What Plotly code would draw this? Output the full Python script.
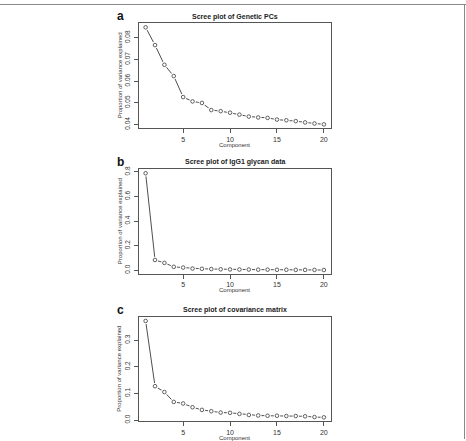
import plotly.graph_objects as go

components = list(range(1, 21))

genetic_pcs = [0.0848, 0.0766, 0.0675, 0.0623, 0.0526, 0.0506, 0.0499, 0.0466,
               0.0461, 0.0454, 0.0445, 0.0436, 0.0432, 0.0430, 0.0422, 0.0419,
               0.0415, 0.0409, 0.0404, 0.0400]
igg1_glycan = [0.789, 0.083, 0.059, 0.027, 0.021, 0.013, 0.011, 0.009, 0.007,
               0.006, 0.005, 0.005, 0.004, 0.004, 0.003, 0.003, 0.002, 0.002,
               0.002, 0.001]
covariance = [0.372, 0.127, 0.105, 0.068, 0.062, 0.048, 0.038, 0.033, 0.028,
              0.027, 0.023, 0.019, 0.017, 0.016, 0.016, 0.015, 0.015, 0.014,
              0.011, 0.010]

titles = ["Scree plot of Genetic PCs", "Scree plot of IgG1 glycan data",
          "Scree plot of covariance matrix"]
letters = ["a", "b", "c"]
yticks = [[0.04, 0.05, 0.06, 0.07, 0.08],
          [0.0, 0.2, 0.4, 0.6, 0.8],
          [0.0, 0.1, 0.2, 0.3]]
ytick_text = [["0.04", "0.05", "0.06", "0.07", "0.08"],
              ["0.0", "0.2", "0.4", "0.6", "0.8"],
              ["0.0", "0.1", "0.2", "0.3"]]
xticks = [5, 10, 15, 20]

W, H = 466, 441
boxes = [(20.7, 126.7), (168.3, 274.0), (317.7, 423.0)]
x_left, x_right = 138.5, 331.0

series = [genetic_pcs, igg1_glycan, covariance]

fig = go.Figure()
FONT = "Liberation Sans, Arial, sans-serif"
LINE = "#3a3a3a"
BOX = "#555555"

def rng(vals):
    lo, hi = min(vals), max(vals)
    pad = 0.04 * (hi - lo)
    return [lo - pad, hi + pad]

xr = rng(components)
annotations = []
for i, (vals, (top, bot)) in enumerate(zip(series, boxes)):
    n = "" if i == 0 else str(i + 1)
    xa, ya = "x" + n, "y" + n
    fig.add_trace(go.Scatter(x=components, y=vals, mode="lines",
                             line=dict(color=LINE, width=0.9),
                             xaxis=xa, yaxis=ya, showlegend=False, hoverinfo="skip"))
    fig.add_trace(go.Scatter(x=components, y=vals, mode="markers",
                             marker=dict(symbol="circle", size=6.5, color="white",
                                         line=dict(width=0)),
                             xaxis=xa, yaxis=ya, showlegend=False, hoverinfo="skip"))
    fig.add_trace(go.Scatter(x=components, y=vals, mode="markers",
                             marker=dict(symbol="circle-open", size=3.6, color=LINE,
                                         line=dict(width=0.8, color=LINE)),
                             xaxis=xa, yaxis=ya, showlegend=False))
    ydom = [1 - bot / H, 1 - top / H]
    xdom = [x_left / W, x_right / W]
    fig.update_layout(**{
        ("xaxis" + n): dict(domain=xdom, anchor=ya, range=xr, tickvals=xticks,
                            ticktext=[str(t) for t in xticks], tickangle=0,
                            showline=True, mirror=True, linecolor=BOX, linewidth=1,
                            ticks="outside", ticklen=4, tickcolor=BOX, tickwidth=1,
                            showgrid=False, zeroline=False,
                            tickfont=dict(size=7, color="#333", family=FONT)),
        ("yaxis" + n): dict(domain=ydom, anchor=xa, range=rng(vals),
                            tickvals=yticks[i], ticktext=ytick_text[i],
                            tickangle=-90, ticklabelstandoff=1,
                            showline=True, mirror=True, linecolor=BOX, linewidth=1,
                            ticks="outside", ticklen=4, tickcolor=BOX, tickwidth=1,
                            showgrid=False, zeroline=False,
                            tickfont=dict(size=6.5, color="#333", family=FONT)),
    })
    cx = (x_left + x_right) / 2 / W
    annotations.append(dict(text="<b>" + titles[i] + "</b>", xref="paper", yref="paper",
                            x=cx, y=1 - (top - 7) / H, xanchor="center", yanchor="middle",
                            showarrow=False, font=dict(size=7, color="#222", family=FONT)))
    annotations.append(dict(text="<b>" + letters[i] + "</b>", xref="paper", yref="paper",
                            x=121 / W, y=1 - (top - 7.5) / H, xanchor="center", yanchor="middle",
                            showarrow=False, font=dict(size=12, color="#111", family=FONT)))
    annotations.append(dict(text="Component", xref="paper", yref="paper",
                            x=cx, y=1 - (bot + 16.5) / H, xanchor="center", yanchor="middle",
                            showarrow=False, font=dict(size=6, color="#333", family=FONT)))
    annotations.append(dict(text="Proportion of variance explained", xref="paper", yref="paper",
                            x=119.5 / W, y=1 - (top + bot) / 2 / H, xanchor="center",
                            yanchor="middle", textangle=-90,
                            showarrow=False, font=dict(size=6, color="#333", family=FONT)))

fig.update_layout(
    width=W, height=H, margin=dict(l=0, r=0, t=0, b=0),
    paper_bgcolor="white", plot_bgcolor="white",
    annotations=annotations,
    shapes=[
        dict(type="line", xref="paper", yref="paper", x0=0, x1=1,
             y0=1 - 1.5 / H, y1=1 - 1.5 / H, line=dict(color="#888", width=1)),
        dict(type="line", xref="paper", yref="paper", x0=1 - 1.5 / W, x1=1 - 1.5 / W,
             y0=0, y1=1 - 1.5 / H, line=dict(color="#888", width=1)),
    ],
)

fig.write_html("out.html")
